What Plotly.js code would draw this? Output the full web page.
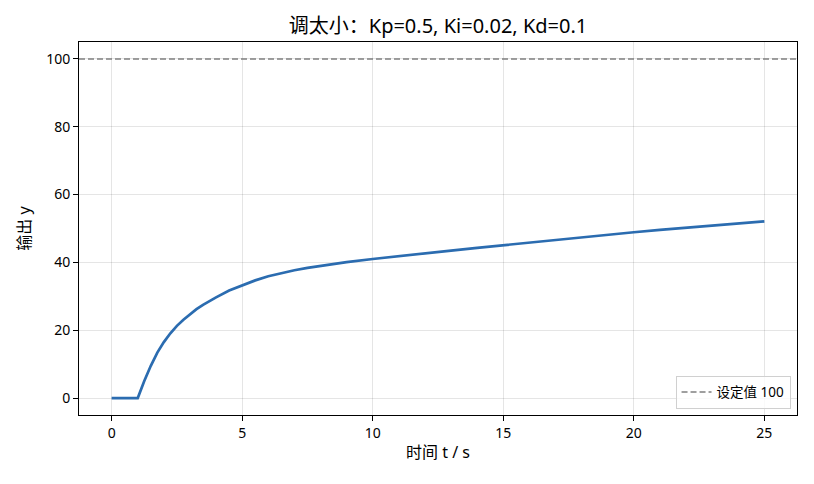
<!DOCTYPE html>
<html>
<head>
<meta charset="utf-8">
<script src="https://cdn.plot.ly/plotly-3.0.1.min.js"></script>
<style>html,body{margin:0;padding:0;background:#fff;}#chart{width:814px;height:484px;}</style>
</head>
<body>
<div id="chart"></div>
<script>
const timeS = [0, 0.5, 1.0, 1.25, 1.5, 1.75, 2.0, 2.25, 2.5, 2.75, 3.0, 3.25, 3.5, 3.75, 4.0, 4.5, 5.0, 5.5, 6.0, 6.5, 7.0, 7.5, 8, 9, 10, 11, 12, 13, 14, 15, 16, 17, 18, 19, 20, 21, 22, 23, 24, 25];
const outputY = [0, 0, 0, 5.0, 9.5, 13.4, 16.5, 19.1, 21.3, 23.1, 24.7, 26.2, 27.5, 28.7, 29.7, 31.7, 33.3, 34.7, 35.9, 36.9, 37.7, 38.4, 39.0, 40.1, 41.0, 41.9, 42.7, 43.5, 44.3, 45.1, 45.9, 46.6, 47.4, 48.1, 48.9, 49.6, 50.2, 50.9, 51.5, 52.1];
const setpoint = 100;
const setpointLabel = '设定值 100';
const xTicks = [0, 5, 10, 15, 20, 25];
const yTicks = [0, 20, 40, 60, 80, 100];
const xRange = [-1.25, 26.25];
const yRange = [-5, 105];

const font = "'Noto Sans', 'Noto Sans CJK SC', sans-serif";

const traces = [
  {
    x: xRange, y: [setpoint, setpoint], mode: 'lines', name: setpointLabel,
    line: {color: '#808080', width: 1.5, dash: '6px,3px'}, showlegend: true
  },
  {
    x: timeS, y: outputY, mode: 'lines', name: '输出',
    line: {color: '#2b6cb0', width: 2.7}, showlegend: false
  }
];

const axisCommon = {
  showline: true, linecolor: '#000', linewidth: 1, mirror: true,
  ticks: 'outside', ticklen: 5, tickwidth: 1, tickcolor: '#000',
  showgrid: true, gridcolor: 'rgba(0,0,0,0.1)', gridwidth: 1,
  zeroline: false, tickfont: {family: font, size: 14, color: '#000'}
};

const layout = {
  width: 814, height: 484,
  margin: {l: 79, r: 17, t: 42, b: 69},
  paper_bgcolor: '#fff', plot_bgcolor: '#fff',
  title: {text: '调太小：Kp=0.5, Ki=0.02, Kd=0.1', x: 0.5, xref: 'paper', xanchor: 'center', y: 0.946, yanchor: 'middle', font: {family: font, size: 20, color: '#000'}},
  xaxis: Object.assign({}, axisCommon, {range: xRange, tickvals: xTicks, title: {text: '时间 t / s', font: {family: font, size: 16, color: '#000'}, standoff: 6}}),
  yaxis: Object.assign({}, axisCommon, {range: yRange, tickvals: yTicks, title: {text: '输出 y', font: {family: font, size: 16, color: '#000'}, standoff: 11}}),
  legend: {x: 0.991, y: 0.017, xanchor: 'right', yanchor: 'bottom', bgcolor: 'rgba(255,255,255,0.8)', bordercolor: '#d0d0d0', borderwidth: 1, font: {family: font, size: 13.5, color: '#000'}},
  showlegend: true
};

Plotly.newPlot('chart', traces, layout, {displayModeBar: false, staticPlot: true});
</script>
</body>
</html>
